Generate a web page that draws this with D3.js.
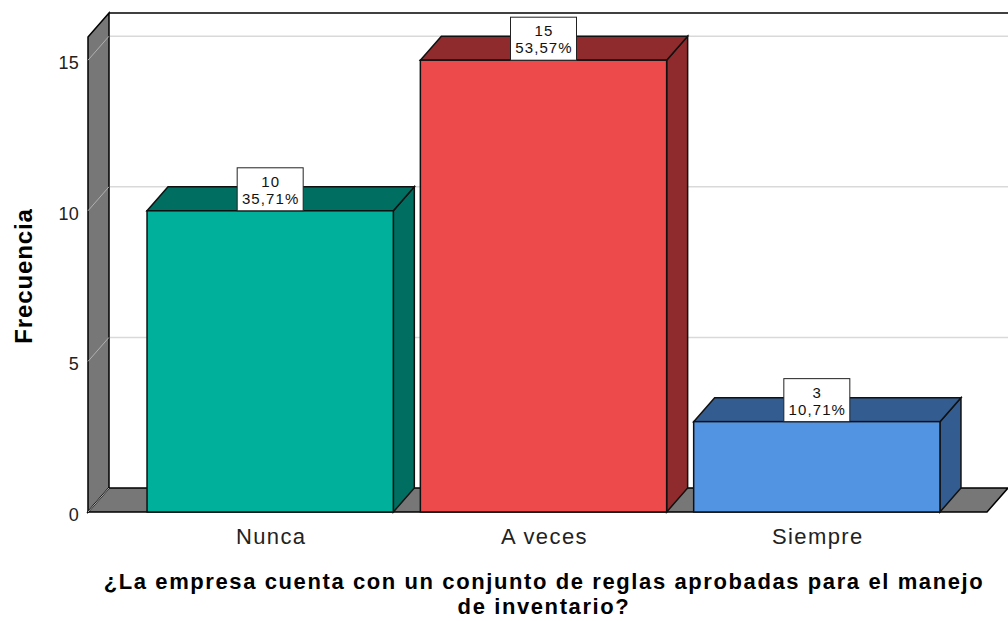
<!DOCTYPE html>
<html lang="en">
<head>
<meta charset="utf-8">
<title>Frecuencia</title>
<script src="https://d3js.org/d3.v7.min.js"></script>
<style>
  body { margin: 0; background: #fff; }
  text { font-family: "Liberation Sans", Arial, sans-serif; }
</style>
</head>
<body>
<svg width="1008" height="621"></svg>
<script>
const categories = ["Nunca", "A veces", "Siempre"];
const counts = [10, 15, 3];
const percents = ["35,71%", "53,57%", "10,71%"];
const yTicks = [0, 5, 10, 15];
const frontColors = ["#00b09b", "#ec4a4b", "#5293e2"];
const darkColors = ["#006e60", "#8f2b2c", "#335c90"];
const xTitle = ["¿La empresa cuenta con un conjunto de reglas aprobadas para el manejo", "de inventario?"];

const svg = d3.select("svg");
const dx = 21, dy = -24;           // depth offset of the 3D box

const y = d3.scaleLinear().domain([0, 15.77]).range([512, 37]);
const x = d3.scaleBand().domain(categories)
  .range([133.5, 953.5]).paddingInner(0.0989).paddingOuter(0.0495);

const left = 88, right = 987;

// back wall gridlines
const grid = svg.append("g");
yTicks.filter(d => d > 0).forEach(t => {
  grid.append("line")
    .attr("x1", left + dx).attr("x2", 1008)
    .attr("y1", y(t) + dy).attr("y2", y(t) + dy)
    .attr("stroke", "#d9d9d9").attr("stroke-width", 1.5);
});

// top frame line of the back wall
svg.append("line")
  .attr("x1", left + dx).attr("x2", 1008)
  .attr("y1", y.range()[1] + dy).attr("y2", y.range()[1] + dy)
  .attr("stroke", "#000").attr("stroke-width", 1.5);

// left wall
svg.append("polygon")
  .attr("points", [[left, y.range()[1]], [left + dx, y.range()[1] + dy], [left + dx, y(0) + dy], [left, y(0)]].join(" "))
  .attr("fill", "#777").attr("stroke", "#000").attr("stroke-width", 1.5);

yTicks.filter(d => d > 0).forEach(t => {
  svg.append("line")
    .attr("x1", left).attr("y1", y(t))
    .attr("x2", left + dx).attr("y2", y(t) + dy)
    .attr("stroke", "#b0b0b0").attr("stroke-width", 1);
});

// floor
svg.append("polygon")
  .attr("points", [[left, y(0)], [left + dx, y(0) + dy], [right + dx, y(0) + dy], [right, y(0)]].join(" "))
  .attr("fill", "#777").attr("stroke", "#000").attr("stroke-width", 1.5);
svg.append("line")
  .attr("x1", left).attr("y1", y(0)).attr("x2", left + dx).attr("y2", y(0) + dy)
  .attr("stroke", "#b0b0b0").attr("stroke-width", 1);

// y tick labels
svg.append("g").selectAll("text").data(yTicks).join("text")
  .attr("x", 79).attr("y", d => y(d) + 9)
  .attr("text-anchor", "end").attr("font-size", 18).attr("letter-spacing", 0.3)
  .attr("fill", "#222")
  .text(d => d);

// bars
const bars = svg.append("g").selectAll("g").data(categories).join("g");
bars.each(function (c, i) {
  const g = d3.select(this);
  const x0 = x(c), x1 = x(c) + x.bandwidth();
  const yt = y(counts[i]), yb = y(0);
  g.append("polygon")
    .attr("points", [[x1, yb], [x1, yt], [x1 + dx, yt + dy], [x1 + dx, yb + dy]].join(" "))
    .attr("fill", darkColors[i]).attr("stroke", "#111").attr("stroke-width", 1.5);
  g.append("polygon")
    .attr("points", [[x0, yt], [x0 + dx, yt + dy], [x1 + dx, yt + dy], [x1, yt]].join(" "))
    .attr("fill", darkColors[i]).attr("stroke", "#111").attr("stroke-width", 1.5);
  g.append("rect")
    .attr("x", x0).attr("y", yt).attr("width", x.bandwidth()).attr("height", yb - yt)
    .attr("fill", frontColors[i]).attr("stroke", "#111").attr("stroke-width", 1.5);

  // value label box
  const cx = x0 + x.bandwidth() / 2;
  g.append("rect")
    .attr("x", cx - 33).attr("y", yt - 43).attr("width", 66).attr("height", 43)
    .attr("fill", "#fff").attr("stroke", "#222").attr("stroke-width", 1);
  g.append("text").attr("x", cx + 0.5).attr("y", yt - 24)
    .attr("text-anchor", "middle").attr("font-size", 15).attr("letter-spacing", 1.1)
    .attr("fill", "#111")
    .text(counts[i]);
  g.append("text").attr("x", cx + 0.5).attr("y", yt - 7)
    .attr("text-anchor", "middle").attr("font-size", 15).attr("letter-spacing", 1.1)
    .attr("fill", "#111")
    .text(percents[i]);
});

// x category labels
svg.append("g").selectAll("text").data(categories).join("text")
  .attr("x", d => x(d) + x.bandwidth() / 2 + 1).attr("y", 544)
  .attr("text-anchor", "middle").attr("font-size", 22).attr("letter-spacing", 1.4)
  .attr("fill", "#222")
  .text(d => d);

// axis titles
svg.append("text")
  .attr("transform", "translate(32,276) rotate(-90)")
  .attr("text-anchor", "middle").attr("font-size", 24).attr("font-weight", "bold")
  .attr("letter-spacing", 0.9)
  .text("Frecuencia");

svg.append("g").selectAll("text").data(xTitle).join("text")
  .attr("x", 544).attr("y", (d, i) => 589 + i * 25)
  .attr("text-anchor", "middle").attr("font-size", 22).attr("font-weight", "bold")
  .attr("letter-spacing", 1.6)
  .text(d => d);
</script>
</body>
</html>
